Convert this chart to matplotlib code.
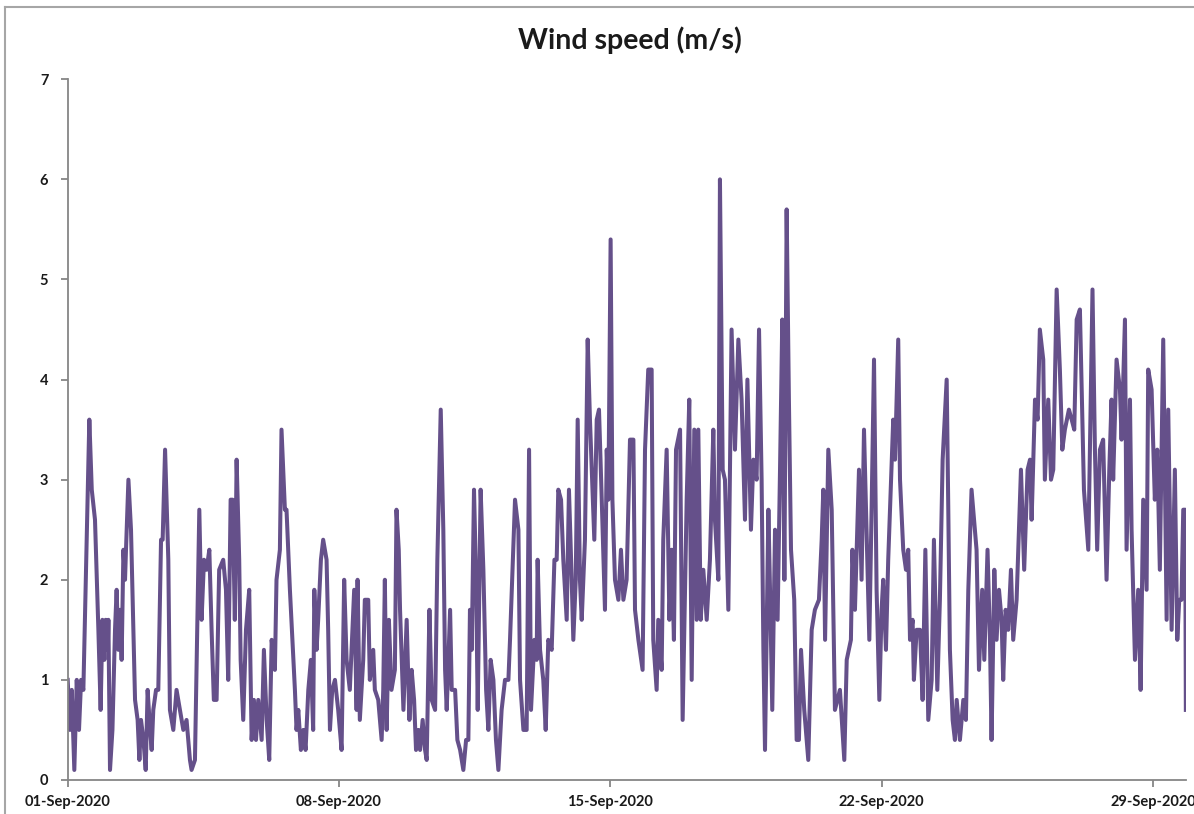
import matplotlib
matplotlib.use("Agg")
import matplotlib.pyplot as plt
import matplotlib.dates as mdates
from matplotlib.lines import Line2D
import pandas as pd

# hours after 01-Sep-2020 00:00 and wind speed (m/s)
hours = [
    0, 1.4, 2.5, 4.1, 5.6, 7.0, 8.3, 9.7, 13.4, 14.9, 16.9, 19.0, 20.4, 21.5,
    22.7, 23.5, 24.8, 25.2, 26.2, 27.7, 29.3, 30.3, 31.4, 32.4, 33.4, 34.5,
    35.5, 36.1, 37.6, 39.2, 41.7, 43.3, 44.4, 45.4, 46.9, 48.3, 49.5, 51.0,
    52.0, 53.0, 54.7, 56.1, 57.8, 58.8, 60.3, 62.3,
    63.3, 65.4, 67.4, 69.5, 71.6, 73.6, 75.7, 76.7, 78.8, 81.5, 82.9, 84.4,
    86.0, 87.7, 89.1, 90.5, 92.2, 93.8, 96.3, 98.0, 99.4, 100.9, 102.1, 103.5,
    104.6, 106.2, 107.1, 108.7, 110.4, 112.4, 113.9, 115.3, 116.6, 118.0,
    120.1, 121.5, 123.2, 124.8, 126.3, 128.3, 129.3, 131.4, 132.4, 134.5,
    135.5, 137.6, 140.7, 141.7, 142.8, 144.4, 145.9, 147.3, 149.0, 150.6,
    152.0, 152.7, 154.1, 155.1, 156.8, 158.2, 160.3, 161.3, 162.4, 163.8,
    165.5, 167.5, 169.6, 171.2, 172.7, 174.7, 177.4, 178.9, 179.5, 180.9,
    183.0, 184.0, 186.1, 187.1, 189.2, 190.2, 192.3, 194.4, 195.4, 196.4,
    197.5, 198.9, 200.5, 202.6, 203.6, 205.0, 205.8,
    207.9, 209.9, 211.6, 213.0, 214.5, 215.7, 217.2, 218.2, 219.8, 221.3,
    222.3, 224.0, 225.4, 227.5, 228.9, 231.0, 232.6, 233.7, 234.7, 236.8,
    237.8, 239.9, 241.3, 243.0, 245.0, 246.7, 248.1, 249.1, 250.2, 251.6,
    252.9, 253.9, 255.7, 257.4, 259.1, 260.5, 261.9, 263.6, 265.2, 266.7,
    268.7, 270.8, 272.9, 273.9,
    277.0, 279.1, 280.1, 282.2, 284.2, 285.7, 286.9, 289.0, 290.4, 291.0,
    292.5, 294.5, 296.0, 297.6, 299.7, 301.4, 302.8, 303.8, 305.5, 306.9,
    309.0, 310.4, 312.1, 313.1, 314.6, 315.8, 317.2, 318.3, 319.3, 320.3,
    322.0, 323.4, 326.1, 327.6, 329.0, 330.7, 332.7, 333.8, 334.8, 336.2,
    337.3, 338.9, 341.0, 342.6, 344.1, 346.1,
    348.2, 350.3, 351.3, 353.4, 356.0, 357.5, 359.5, 361.6, 362.6, 364.7,
    365.7, 367.8, 368.8, 370.9, 372.6, 374.0, 375.4, 376.7, 379.2, 380.8,
    383.3, 384.9, 386.4, 388.0, 389.5, 390.5, 392.0, 393.6, 395.7, 397.7,
    399.8, 400.8, 402.9, 403.9, 405.6, 407.0, 409.1, 411.1, 413.2, 415.3,
    417.3, 419.4, 420.9,
    423.1, 424.6, 426.6, 428.1, 429.7, 430.8, 431.8, 433.9, 434.9, 436.3,
    438.0, 439.6, 441.1, 442.5, 443.8, 445.2, 446.6, 447.9, 449.9, 451.4,
    452.8, 454.1, 456.1, 458.6, 460.7, 462.7, 465.2, 466.9, 467.9, 469.0,
    471.0, 473.1, 475.1, 478.2, 480.9, 482.4, 485.0, 485.9, 487.5, 490.0,
    491.6, 493.1, 494.7, 496.4, 497.8, 499.3, 500.9, 502.6, 504.0, 505.0,
    506.7, 508.1, 511.2, 512.3, 514.3, 515.4, 517.4, 519.1, 520.5, 521.6,
    523.2, 524.0, 525.7, 527.8, 529.4, 531.1, 532.9, 535.0, 536.4, 538.5,
    540.1, 541.8, 544.3, 545.3, 546.3, 548.0, 549.4, 550.5, 552.5, 554.6,
    556.2, 557.7, 559.7,
    562.8, 564.3, 566.3, 567.6, 569.6, 571.1, 572.1, 573.8, 575.2, 576.7,
    578.3, 579.3, 580.8, 582.4, 584.1, 585.5, 587.6, 590.3, 592.3, 594.4,
    595.9, 596.9, 599.0, 600.6, 602.0, 604.1, 605.1, 607.2, 608.9, 610.3,
    612.4, 614.4, 615.9, 617.5, 620.0, 621.7, 623.3, 624.8,
    626.8, 629.3, 632.0, 634.6, 636.1, 637.5, 639.2, 641.2, 643.3, 645.0,
    646.4, 647.4, 649.5, 651.6, 652.6, 654.7, 655.7, 657.8, 658.8, 660.9,
    662.9, 664.4, 666.0, 668.1, 669.1, 671.2, 673.2, 674.7, 676.3, 678.4,
    680.5, 681.5, 683.6, 685.6, 687.1, 688.3, 689.7, 690.8, 692.0, 692.4,
]

speed = [
    1.0, 0.5, 0.9, 0.1, 1.0, 0.5, 1.0, 0.9, 3.6, 2.9, 2.6, 1.5, 0.7, 1.6,
    1.2, 1.6, 1.3, 1.6, 0.1, 0.5, 1.5, 1.9, 1.3, 1.7, 1.2, 2.3,
    2.0, 2.3, 3.0, 2.5, 0.8, 0.6, 0.2, 0.6, 0.4, 0.1, 0.9, 0.5,
    0.3, 0.7, 0.9, 0.9, 2.4, 2.4, 3.3, 2.2,
    0.7, 0.5, 0.9, 0.7, 0.5, 0.6, 0.2, 0.1, 0.2, 2.7, 1.6, 2.2,
    2.1, 2.3, 1.5, 0.8, 0.8, 2.1, 2.2, 1.9, 1.0, 2.8, 2.8, 1.6,
    3.2, 2.2, 1.2, 0.6, 1.5, 1.9, 0.4, 0.8, 0.4, 0.8,
    0.4, 1.3, 0.6, 0.2, 1.4, 1.1, 2.0, 2.3, 3.5, 2.7,
    2.7, 1.9, 0.9, 0.5, 0.7, 0.3, 0.5, 0.3, 0.9, 1.2,
    0.5, 1.9, 1.3, 1.6, 2.2, 2.4, 2.2, 1.5, 0.5, 0.9,
    1.0, 0.7, 0.3, 2.0, 1.2, 0.9, 1.9, 0.7, 2.0, 0.6,
    1.2, 1.8, 1.8, 1.0, 1.3, 0.9, 0.8, 0.4, 0.9, 2.0,
    0.5, 1.6, 0.9, 1.1, 2.7, 2.3, 1.7,
    0.7, 1.6, 0.6, 1.1, 0.8, 0.3, 0.5, 0.3, 0.6, 0.3,
    0.2, 1.7, 0.8, 0.7, 2.2, 3.7, 2.5, 1.1, 0.7, 1.7,
    0.9, 0.9, 0.4, 0.3, 0.1, 0.4, 0.4, 1.7, 1.3, 2.9,
    2.0, 0.7, 2.9, 2.1, 0.9, 0.5, 1.2, 1.0, 0.4, 0.1,
    0.7, 1.0, 1.0, 1.4,
    2.8, 2.5, 1.0, 0.5, 0.5, 3.3, 0.7, 1.4, 1.2, 2.2,
    1.3, 1.0, 0.5, 1.4, 1.3, 2.2, 2.2, 2.9, 2.8, 2.2,
    1.6, 2.9, 2.0, 1.4, 2.0, 3.6, 2.0, 1.6, 2.0, 2.4,
    4.4, 3.6, 2.4, 3.6, 3.7, 2.8, 1.7, 3.3, 2.8, 5.4,
    2.8, 2.0, 1.8, 2.3, 1.8, 2.0,
    3.4, 3.4, 1.7, 1.4, 1.1, 3.3, 4.1, 4.1, 1.4, 0.9,
    1.6, 1.1, 2.4, 3.3, 1.6, 2.3, 1.4, 3.3, 3.5, 0.6,
    2.8, 3.8, 1.0, 3.5, 1.6, 3.5, 1.6, 2.1, 1.6, 2.2,
    3.5, 2.6, 2.0, 6.0, 3.1, 3.0, 1.7, 4.5, 3.3, 4.4,
    3.8, 2.6, 4.0,
    2.5, 3.2, 3.0, 4.5, 3.0, 1.3, 0.3, 2.7, 1.9, 0.7,
    2.5, 1.6, 3.1, 4.6, 2.0, 5.7, 3.8, 2.3, 1.8, 0.4,
    0.4, 1.3, 0.7, 0.2, 1.5, 1.7, 1.8, 2.4, 2.9, 1.4,
    3.3, 2.7, 0.7, 0.9, 0.2, 1.2, 1.4, 2.3, 1.7, 3.1,
    2.0, 3.5, 2.5, 1.4, 2.7, 4.2, 1.9, 0.8, 1.7, 2.0,
    1.3, 2.2, 3.6, 3.2, 4.4, 3.0, 2.3, 2.1, 2.3, 1.4,
    1.6, 1.0, 1.5, 1.5, 0.8, 2.3, 0.6, 1.0, 2.4, 0.9,
    1.8, 3.2, 4.0, 2.7, 1.3, 0.6, 0.4, 0.8, 0.4, 0.8,
    0.6, 1.9, 2.9,
    2.3, 1.1, 1.9, 1.2, 2.3, 1.4, 0.4, 2.1, 1.4, 1.9,
    1.6, 1.0, 1.7, 1.5, 2.1, 1.4, 1.8, 3.1, 2.1, 3.1,
    3.2, 2.6, 3.8, 3.6, 4.5, 4.2, 3.0, 3.8, 3.0, 3.1,
    4.9, 4.1, 3.3, 3.5, 3.7, 3.6, 3.5, 4.6,
    4.7, 2.9, 2.3, 4.9, 3.3, 2.3, 3.3, 3.4, 2.0, 3.1,
    3.8, 3.0, 4.2, 3.9, 3.4, 4.6, 2.3, 3.8, 2.5, 1.2,
    1.9, 0.9, 2.8, 1.9, 4.1, 3.9, 2.8, 3.3, 2.1, 4.4,
    1.6, 3.7, 1.5, 3.1, 1.4, 1.8, 1.8, 2.7, 2.7, 0.7,
]

times = pd.Timestamp("2020-09-01") + pd.to_timedelta(hours, unit="h")

plt.rcParams["font.family"] = ["Lato", "DejaVu Sans"]

fig = plt.figure(figsize=(11.94, 8.14), dpi=100)
ax = fig.add_axes([0.0567, 0.0418, 0.9366, 0.8608])

ax.plot(times, speed, color="#65508A", linewidth=2.9, solid_joinstyle="round")

ax.set_ylim(0, 7)
ax.set_yticks(range(0, 8))
ax.set_xlim(pd.Timestamp("2020-09-01"),
            pd.Timestamp("2020-09-01") + pd.Timedelta(hours=692.5))
ax.xaxis.set_major_locator(mdates.DayLocator(bymonthday=[1, 8, 15, 22, 29]))
ax.xaxis.set_major_formatter(mdates.DateFormatter("%d-%b-%Y"))

for side in ["top", "right"]:
    ax.spines[side].set_visible(False)
for side in ["left", "bottom"]:
    ax.spines[side].set_color("#868686")
    ax.spines[side].set_linewidth(1.3)
ax.tick_params(axis="both", colors="#868686", length=5, width=1.3,
               labelcolor="#1a1a1a", labelsize=10.5)
ax.tick_params(axis="y", pad=9)
ax.tick_params(axis="x", pad=6)
for lab in ax.get_xticklabels() + ax.get_yticklabels():
    lab.set_fontweight("bold")

fig.text(630 / 1194, 1 - 40 / 814, "Wind speed (m/s)", ha="center",
         va="center", fontsize=20.5, fontweight="bold", color="#1a1a1a")

# chart-area border (left and top edges only visible)
fig.add_artist(Line2D([4.5 / 1194, 4.5 / 1194], [0, 1 - 7 / 814],
                      color="#a6a6a6", linewidth=1.5))
fig.add_artist(Line2D([4.5 / 1194, 1], [1 - 7 / 814, 1 - 7 / 814],
                      color="#a6a6a6", linewidth=1.5))

fig.savefig("out.png", dpi=100)
